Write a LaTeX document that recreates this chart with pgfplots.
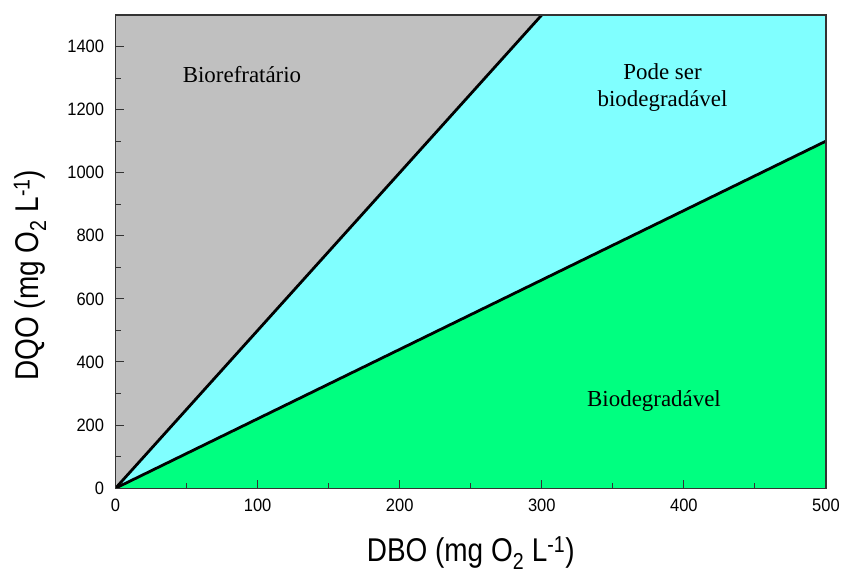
\documentclass[border=0pt]{standalone}
\usepackage{fontspec}
\usepackage{pgfplots}
\pgfplotsset{compat=1.18}
\setmainfont{Liberation Serif}
\newfontfamily\labelfont[FakeStretch=0.85]{Liberation Sans}
\newfontfamily\tickfont[FakeStretch=0.92]{Liberation Sans}
\newcommand\tickfontsize{\tickfont\fontsize{18}{21}\selectfont}
\definecolor{regGray}{RGB}{192,192,192}
\definecolor{regCyan}{RGB}{128,255,255}
\definecolor{regGreen}{RGB}{0,255,128}
\pgfplotstableread{
x y
0 0
300 1500
}\steepline
\pgfplotstableread{
x y
0 0
500 1100
}\lowline
\pgfplotstableread{
x y
0 0
300 1500
500 1500
500 1100
0 0
}\cyanregion
\pgfplotstableread{
x y
0 0
500 1100
500 0
0 0
}\greenregion
\begin{document}
\begin{tikzpicture}
\begin{axis}[
  scale only axis,
  width=713pt, height=475pt,
  xmin=0, xmax=500, ymin=0, ymax=1500,
  axis background/.style={fill=regGray},
  axis line style={line width=1.3pt, black!80},
  xtick={0,100,...,500},
  ytick={0,200,...,1400},
  minor xtick={50,150,...,450},
  minor ytick={100,300,...,1300},
  tick align=inside,
  xtick pos=bottom, ytick pos=left,
  major tick length=8pt, minor tick length=5pt,
  every tick/.style={black!80, line width=1pt},
  /pgf/number format/assume math mode=true,
  /pgf/number format/set thousands separator={},
  xticklabel style={font=\tickfontsize, yshift=-7pt},
  yticklabel style={font=\tickfontsize, xshift=-8pt},
  xlabel={DBO (mg O\textsubscript{2} L\textsuperscript{-1})},
  ylabel={DQO (mg O\textsubscript{2} L\textsuperscript{-1})},
  xlabel style={font=\labelfont\fontsize{33}{36}\selectfont, at={(axis description cs:0.5,-0.137)}, anchor=center},
  ylabel style={font=\labelfont\fontsize{33}{36}\selectfont, at={(axis description cs:-0.1206,0.45)}, anchor=center},
  clip=true,
  axis on top,
]
\addplot[fill=regCyan, draw=none] table {\cyanregion};
\addplot[fill=regGreen, draw=none] table {\greenregion};
\addplot[black, line width=2.8pt] table {\steepline};
\addplot[black, line width=2.8pt] table {\lowline};
\node[font=\fontsize{23}{26}\selectfont] at (axis cs:89,1312) {Biorefratário};
\node[font=\fontsize{23}{27}\selectfont, align=center] at (axis cs:385,1270) {Pode ser\\biodegradável};
\node[font=\fontsize{23}{26}\selectfont] at (axis cs:379,275) {Biodegradável};
\end{axis}
\useasboundingbox ([shift={(-116pt,-88pt)}]current axis.south west) rectangle ([shift={(14pt,15pt)}]current axis.north east);
\end{tikzpicture}
\end{document}
